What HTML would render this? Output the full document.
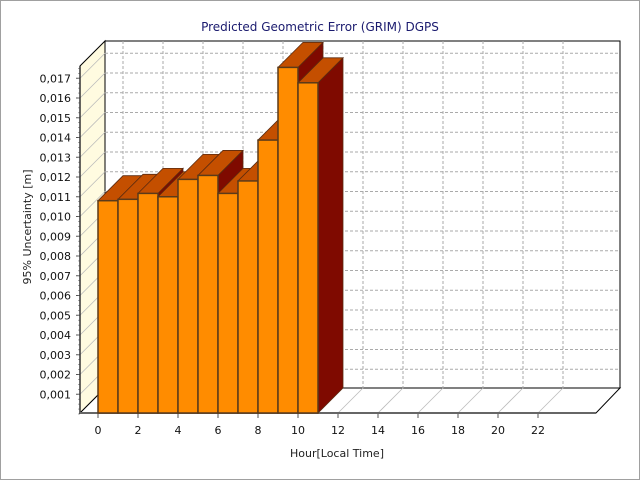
<!DOCTYPE html>
<html><head><meta charset="utf-8"><style>
body{margin:0;background:#fff}
svg{display:block;font-family:"DejaVu Sans","Liberation Sans",sans-serif}
</style></head><body>
<svg id="c" width="640" height="480">
<rect x="0.5" y="0.5" width="639" height="479" fill="#fff" stroke="#a0a0a0"/>
<text x="320" y="31" text-anchor="middle" font-size="12" fill="#1a1a6e">Predicted Geometric Error (GRIM) DGPS</text>
<text x="0" y="0" transform="translate(31,227) rotate(-90)" text-anchor="middle" font-size="11" fill="#222">95% Uncertainty [m]</text>
<text x="337" y="457" text-anchor="middle" font-size="11" fill="#222">Hour[Local Time]</text>
<g id="g"></g>
</svg>
<script>
const hours=[0,1,2,3,4,5,6,7,8,9,10];
const values=[0.0108,0.01087,0.01117,0.0110,0.01188,0.01208,0.01117,0.0118,0.01387,0.01755,0.01677];
const yTicks=[0.001,0.002,0.003,0.004,0.005,0.006,0.007,0.008,0.009,0.010,0.011,0.012,0.013,0.014,0.015,0.016,0.017];
const xTicks=[0,2,4,6,8,10,12,14,16,18,20,22];
const X0=98,HW=20,Y0=414,PU=19750,D=25;
const xs=h=>X0+h*HW, ys=v=>Y0-v*PU;
const NS="http://www.w3.org/2000/svg",g=document.getElementById('g');
function mk(t,a,name){const e=document.createElementNS(NS,t);for(const k in a)e.setAttribute(k,a[k]);


g.appendChild(e);return e;}
// walls
mk('polygon',{points:`80,66 105,41 105,388 80,413`,fill:'#fffbe0',stroke:'#000','stroke-width':1},'left-wall');
mk('rect',{x:105,y:41,width:515,height:347,fill:'#fff',stroke:'#000','stroke-width':1},'back-wall');
mk('polygon',{points:`80,413 105,388 620,388 596,413`,fill:'#fff',stroke:'#000','stroke-width':1},'floor');
yTicks.forEach(v=>{const y=ys(v);
mk('line',{x1:105,y1:y-D,x2:620,y2:y-D,stroke:'#aaa','stroke-dasharray':'3,2'},'h-grid');
mk('line',{x1:80,y1:y,x2:105,y2:y-D,stroke:'#bbb','stroke-width':0.8},'wall-grid');
mk('line',{x1:76,y1:y,x2:80,y2:y,stroke:'#555'},'y-tick');
const t=mk('text',{x:71,y:y+4,'text-anchor':'end','font-size':11,fill:'#111'},'y-tick-label');t.textContent=v.toFixed(3).replace('.',',');
});
for(let v=0;v<0.0176;v+=0.00025){mk('line',{x1:78,y1:ys(v),x2:80,y2:ys(v),stroke:'#777','stroke-width':0.6},'y-minor-tick');}
xTicks.forEach(h=>{const x=xs(h);
mk('line',{x1:x+D,y1:41,x2:x+D,y2:388,stroke:'#aaa','stroke-dasharray':'3,2'},'v-grid');
mk('line',{x1:x,y1:413,x2:x+D,y2:388,stroke:'#bbb','stroke-width':0.8},'floor-grid');
mk('line',{x1:x,y1:413,x2:x,y2:418,stroke:'#555'},'x-tick');
const t=mk('text',{x:x,y:434,'text-anchor':'middle','font-size':11,fill:'#111'},'x-tick-label');t.textContent=h;
});
mk('line',{x1:80,y1:66,x2:80,y2:413,stroke:'#333','stroke-width':1.5},'y-axis');
mk('line',{x1:80,y1:413,x2:596,y2:413,stroke:'#666','stroke-width':2},'x-axis');
hours.forEach((h,i)=>{const x=xs(h),y=ys(values[i]),w=HW,b=413;
mk('polygon',{points:`${x+w},${y} ${x+w+D},${y-D} ${x+w+D},${b-D} ${x+w},${b}`,fill:'#7f0a00',stroke:'#5a2a10','stroke-width':0.8},'bar-side');
mk('polygon',{points:`${x},${y} ${x+D},${y-D} ${x+w+D},${y-D} ${x+w},${y}`,fill:'#c44f00',stroke:'#5a2a10','stroke-width':0.8},'bar-top');
mk('rect',{x:x,y:y,width:w,height:b-y,fill:'#ff8c00',stroke:'#5a3a1a','stroke-width':1.5},'bar-'+h);
});
</script>
</body></html>
